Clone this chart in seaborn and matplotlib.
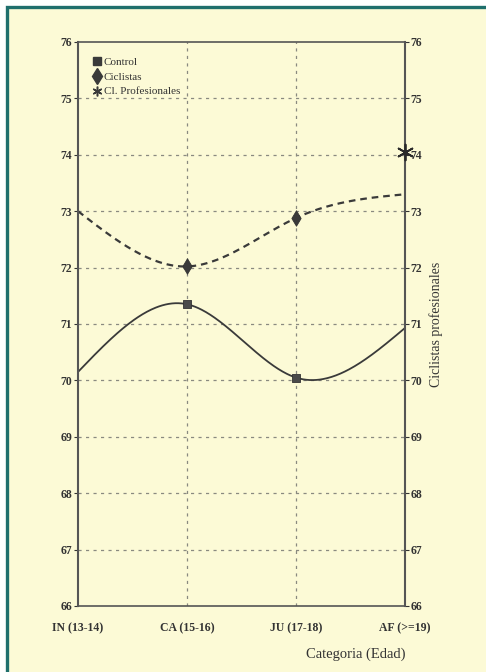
import numpy as np
import pandas as pd
import seaborn as sns
import matplotlib
matplotlib.use("Agg")
import matplotlib.pyplot as plt
from matplotlib.patches import Rectangle
from matplotlib.lines import Line2D

# Age categories and mean values per group
categorias = ["IN (13-14)", "CA (15-16)", "JU (17-18)", "AF (>=19)"]
control = [70.15, 71.35, 70.05, 70.93]
ciclistas = [73.0, 72.02, 72.88, 73.3]
profesionales_cat = "AF (>=19)"
profesionales = [74.05]
y_ticks = list(range(66, 77))

CREAM = "#fcfad6"
TEAL = "#1f6f6c"
INK = "#333333"


def natural_spline(values, n=300):
    """Smooth curve through equally spaced points (natural cubic spline)."""
    y = np.asarray(values, dtype=float)
    k = len(y)
    A = np.zeros((k, k))
    b = np.zeros(k)
    A[0, 0] = A[-1, -1] = 1.0
    for i in range(1, k - 1):
        A[i, i - 1], A[i, i], A[i, i + 1] = 1.0, 4.0, 1.0
        b[i] = 6.0 * (y[i + 1] - 2 * y[i] + y[i - 1])
    M = np.linalg.solve(A, b)
    xs = np.linspace(0, k - 1, n)
    seg = np.clip(np.floor(xs).astype(int), 0, k - 2)
    t = xs - seg
    ys = (M[seg] * (1 - t) ** 3 / 6 + M[seg + 1] * t ** 3 / 6
          + (y[seg] - M[seg] / 6) * (1 - t) + (y[seg + 1] - M[seg + 1] / 6) * t)
    return xs, ys


sns.set_style("white")
plt.rcParams["font.family"] = ["Liberation Serif", "DejaVu Serif"]
plt.rcParams["text.color"] = INK
plt.rcParams["axes.labelcolor"] = INK
plt.rcParams["xtick.color"] = INK
plt.rcParams["ytick.color"] = INK

fig = plt.figure(figsize=(4.86, 6.72), dpi=100)
fig.patch.set_facecolor("white")
fig.patches.append(Rectangle((6.5 / 486, -0.05), 1.2, 1 - 6.5 / 672 + 0.05,
                             transform=fig.transFigure, facecolor=CREAM,
                             edgecolor=TEAL, linewidth=2.4, zorder=-10))

ax = fig.add_axes([78 / 486, 1 - 606 / 672, (405 - 78) / 486, (606 - 42) / 672])
ax.set_facecolor(CREAM)

pos = np.arange(len(categorias))

# smooth curves
xs, ys_ctrl = natural_spline(control)
_, ys_cic = natural_spline(ciclistas)
curves = pd.DataFrame({"x": xs, "control": ys_ctrl, "ciclistas": ys_cic})
sns.lineplot(data=curves, x="x", y="control", ax=ax, color="#3a3a3a", linewidth=1.3,
             sort=False)
sns.lineplot(data=curves, x="x", y="ciclistas", ax=ax, color="#3a3a3a", linewidth=1.6,
             sort=False, linestyle=(0, (3, 2.2)))

# markers at the interior categories
pts = pd.DataFrame({"x": pos, "control": control, "ciclistas": ciclistas})
inner = pts.iloc[1:3]
sns.scatterplot(data=inner, x="x", y="control", ax=ax, marker="s", s=36,
                color="#4a4a4a", edgecolor="#333333", linewidth=0.6, zorder=5)
sns.scatterplot(data=inner, x="x", y="ciclistas", ax=ax, marker="d", s=62,
                color="#3a3a3a", edgecolor="#333333", linewidth=0.6, zorder=5)
prof = pd.DataFrame({"x": [categorias.index(profesionales_cat)], "y": profesionales})
sns.scatterplot(data=prof, x="x", y="y", ax=ax, marker=(6, 2, 0), s=130,
                color="#2a2a2a", linewidth=1.3, zorder=6, clip_on=False)

# dashed grid
for v in y_ticks[1:-1]:
    ax.axhline(v, color="#8a8a80", linewidth=0.9, linestyle=(0, (2.5, 3.5)), zorder=1)
for p in pos[1:-1]:
    ax.axvline(p, color="#8a8a80", linewidth=0.9, linestyle=(0, (2.5, 3.5)), zorder=1)

ax.set_xlim(0, 3)
ax.set_ylim(66, 76)
ax.set_xticks(pos)
ax.set_xticklabels(categorias, fontsize=8.5, fontweight="bold")
ax.set_yticks(y_ticks)
ax.set_yticklabels([str(v) for v in y_ticks], fontsize=8.5, fontweight="bold")
ax.tick_params(axis="x", length=0, pad=12)
ax.tick_params(axis="y", length=3, width=0.8, pad=1, left=True, right=True,
               labelleft=True, labelright=True, direction="out")
ax.set_xlabel("")
ax.set_ylabel("Ciclistas profesionales", fontsize=10, labelpad=5)
ax.yaxis.set_label_position("right")

for side, sp in ax.spines.items():
    sp.set_color("#555555")
    sp.set_linewidth(1.5 if side in ("left", "right") else 1.2)

fig.text(405 / 486, 1 - 654 / 672, "Categoria (Edad)", ha="right", va="center",
         fontsize=10.5)

handles = [
    Line2D([], [], marker="s", linestyle="none", color="#3a3a3a", markersize=5.5),
    Line2D([], [], marker="d", linestyle="none", color="#3a3a3a", markersize=8),
    Line2D([], [], marker=(6, 2, 0), linestyle="none", color="#3a3a3a",
           markersize=7, markeredgewidth=1.1),
]
ax.legend(handles, ["Control", "Ciclistas", "Cl. Profesionales"],
          loc="upper left", bbox_to_anchor=(0.02, 0.985), frameon=False,
          fontsize=8, handletextpad=0.15, labelspacing=0.45, handlelength=1.0,
          borderaxespad=0.2)

fig.savefig("out.png", dpi=100, facecolor=fig.get_facecolor())
